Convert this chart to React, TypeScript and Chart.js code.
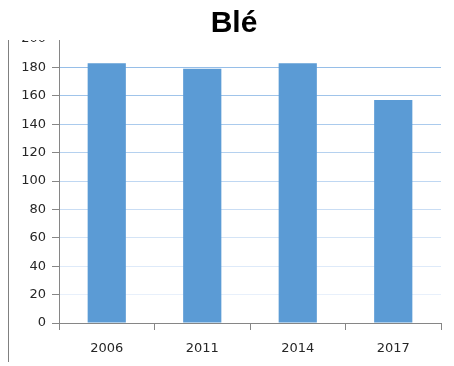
import React, { useEffect, useRef } from "react";
import { Chart, registerables } from "chart.js";

Chart.register(...registerables);

const categories = ["2006", "2011", "2014", "2017"];
const values = [183, 179, 183, 157];
const title = "Blé";
const yMin = 0;
const yMax = 200;
const yStep = 20;

function gridColor(v: number): string {
  // stronger blue near the top, fading towards the bottom
  const t = Math.max(0, Math.min(1, (v - 20) / 160));
  const a = [232, 240, 251];
  const b = [150, 190, 232];
  const c = a.map((x, i) => Math.round(x + (b[i] - x) * t));
  return `rgb(${c[0]},${c[1]},${c[2]})`;
}

export default function App() {
  const ref = useRef<HTMLCanvasElement | null>(null);

  useEffect(() => {
    if (!ref.current) return;
    const chart = new Chart(ref.current, {
      type: "bar",
      data: {
        labels: categories,
        datasets: [
          {
            data: values,
            backgroundColor: "#5b9bd5",
            borderWidth: 0,
            categoryPercentage: 1,
            barPercentage: 0.4,
          },
        ],
      },
      options: {
        responsive: false,
        animation: false,
        devicePixelRatio: 1,
        layout: { padding: { left: 0, top: 39, right: 13, bottom: 0 } },
        plugins: {
          legend: { display: false },
          tooltip: { enabled: false },
          title: { display: false },
        },
        scales: {
          x: {
            afterFit: (s: any) => {
              s.height = 43;
            },
            grid: {
              offset: true,
              drawOnChartArea: false,
              drawTicks: true,
              tickLength: 7,
              tickColor: "#868686",
            },
            border: { color: "#868686", width: 1 },
            ticks: {
              color: "#262626",
              padding: 11,
              font: { family: "DejaVu Sans", size: 13 },
            },
          },
          y: {
            min: yMin,
            max: yMax,
            afterFit: (s: any) => {
              s.width = 59;
            },
            grid: {
              color: (ctx: any) => gridColor(ctx.tick ? ctx.tick.value : 0),
              drawTicks: true,
              tickLength: 7,
              tickColor: "#868686",
            },
            border: { color: "#868686", width: 1 },
            ticks: {
              stepSize: yStep,
              color: "#262626",
              padding: 6,
              font: { family: "DejaVu Sans", size: 13 },
            },
          },
        },
      },
    });
    return () => chart.destroy();
  }, []);

  return (
    <div style={{ position: "absolute", left: 0, top: 0, width: 454, height: 366, background: "#fff" }}>
      <canvas ref={ref} width={454} height={366} style={{ display: "block" }} />
      <div
        style={{
          position: "absolute",
          left: 0,
          top: 0,
          width: 454,
          height: 40,
          background: "#fff",
        }}
      />
      <div
        style={{
          position: "absolute",
          left: 0,
          top: 0,
          width: 468,
          height: 40,
          textAlign: "center",
          lineHeight: "44px",
          fontFamily: "'Liberation Sans', Arial, sans-serif",
          fontWeight: "bold",
          fontSize: 30,
          color: "#000",
        }}
      >
        {title}
      </div>
      <div
        style={{
          position: "absolute",
          left: 8,
          top: 40,
          width: 1,
          height: 322,
          background: "#808080",
        }}
      />
    </div>
  );
}
